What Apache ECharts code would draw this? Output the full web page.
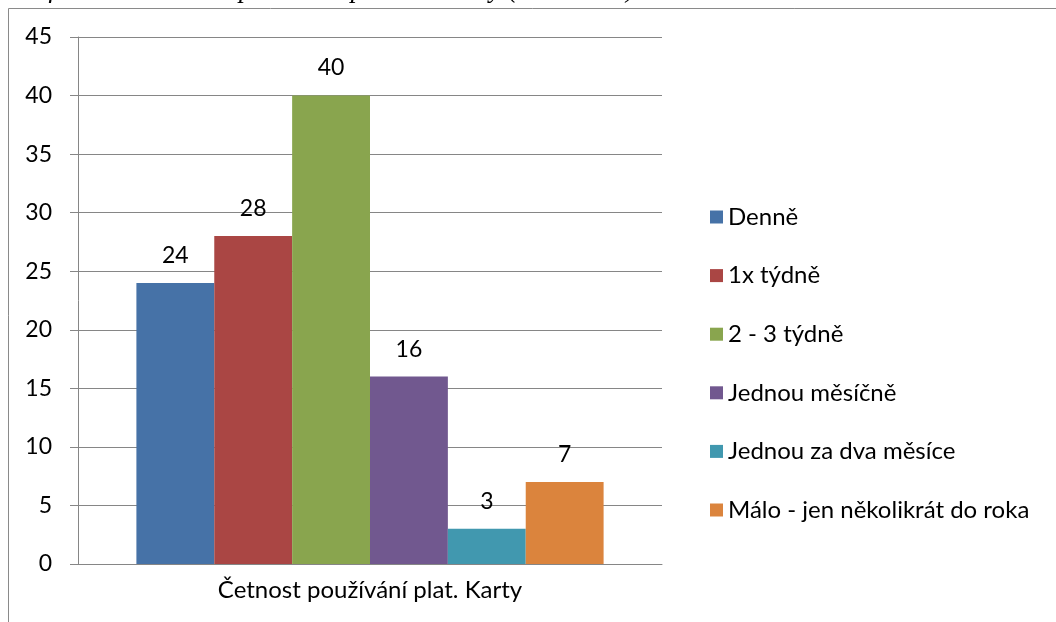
<!DOCTYPE html>
<html>
<head>
<meta charset="utf-8">
<script src="https://cdn.jsdelivr.net/npm/echarts@6/dist/echarts.min.js"></script>
<style>
  html, body { margin: 0; padding: 0; background: #fff; }
  #chart { width: 1056px; height: 622px; }
</style>
</head>
<body>
<div id="chart"></div>
<script>
// data
const category = ['Četnost používání plat. Karty'];
const seriesNames = ['Denně', '1x týdně', '2 - 3 týdně', 'Jednou měsíčně', 'Jednou za dva měsíce', 'Málo - jen několikrát do roka'];
const seriesValues = [24, 28, 40, 16, 3, 7];
const seriesColors = ['#4672A7', '#AA4644', '#89A54E', '#71588F', '#4198AF', '#DB843D'];
const caption = 'Graf číslo 7: Četnost používání platební karty (v osobách).';

const font = 'Lato, "Open Sans", sans-serif';

const chart = echarts.init(document.getElementById('chart'));

const series = seriesNames.map(function (name, i) {
  return {
    name: name,
    type: 'bar',
    barGap: '0%',
    barCategoryGap: '20%',
    itemStyle: { color: seriesColors[i] },
    label: {
      show: true,
      position: 'top',
      distance: 16,
      color: '#000',
      fontSize: 23,
      fontFamily: font
    },
    data: [seriesValues[i]]
  };
});

const option = {
  animation: false,
  textStyle: { fontFamily: font },
  graphic: [
    {
      type: 'rect',
      shape: { x: 8.5, y: 8.5, width: 1100, height: 700 },
      style: { fill: 'none', stroke: '#8a8a8a', lineWidth: 1 }
    },
    {
      type: 'text',
      left: 5,
      top: -24,
      style: {
        text: caption,
        font: 'italic 27px "Liberation Serif", serif',
        fill: '#000'
      }
    }
  ],
  grid: { left: 78, right: 394, top: 37, bottom: 58 },
  legend: {
    orient: 'vertical',
    left: 705,
    top: 200,
    itemWidth: 13,
    itemHeight: 13,
    itemGap: 34.6,
    icon: 'rect',
    textStyle: { fontSize: 24, color: '#000', fontFamily: font },
    data: seriesNames
  },
  xAxis: {
    type: 'category',
    data: category,
    axisLine: { lineStyle: { color: '#868686' } },
    axisTick: { length: 8, lineStyle: { color: '#868686' } },
    axisLabel: { color: '#000', fontSize: 24, margin: 14, fontFamily: font }
  },
  yAxis: {
    type: 'value',
    min: 0,
    max: 45,
    interval: 5,
    axisLine: { show: true, lineStyle: { color: '#868686' } },
    axisTick: { show: true, length: 8, lineStyle: { color: '#868686' } },
    axisLabel: { color: '#000', fontSize: 23, margin: 26, fontFamily: font },
    splitLine: { lineStyle: { color: '#868686', width: 1 } }
  },
  series: series
};

chart.setOption(option);
</script>
</body>
</html>
